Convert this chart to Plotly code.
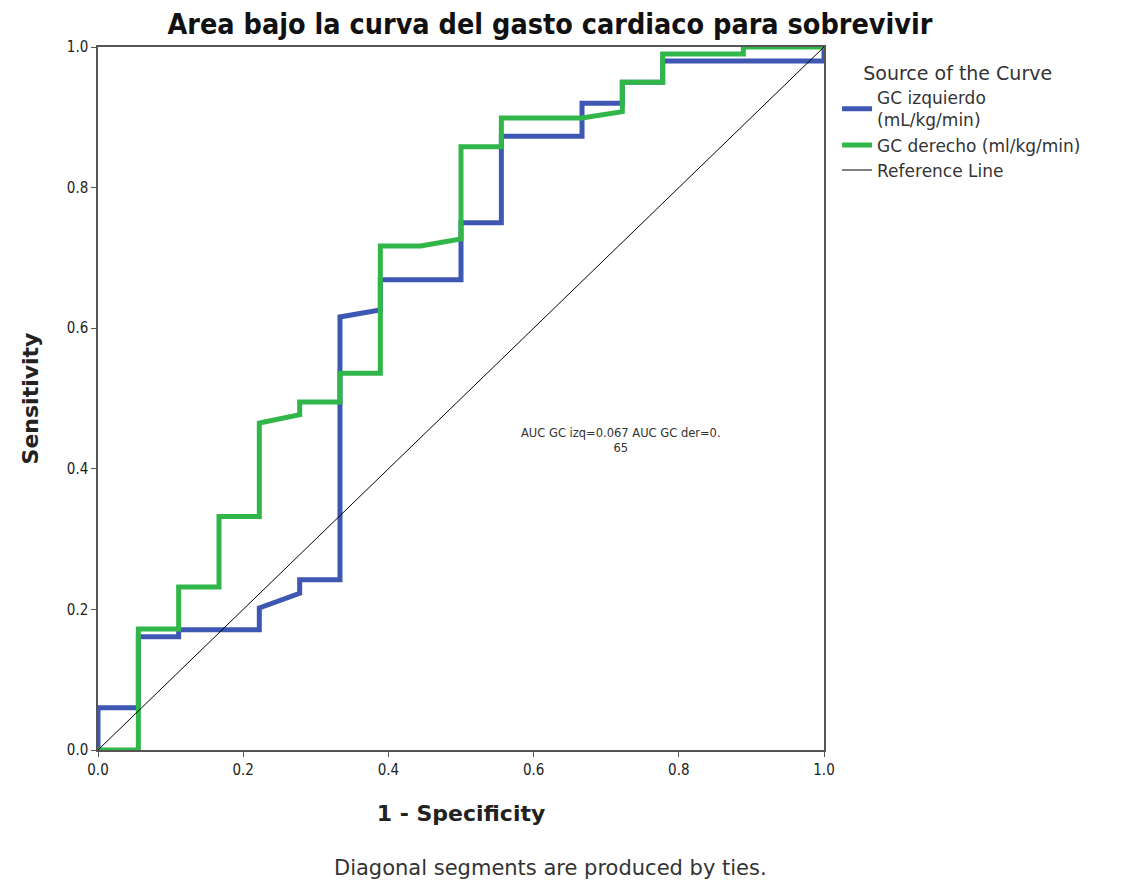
import plotly.graph_objects as go

# Data
izq_fpr = [0.0, 0.0, 0.0556, 0.0556, 0.1111, 0.1111, 0.2222, 0.2222, 0.2778, 0.2778, 0.3333, 0.3333,
           0.3889, 0.3889, 0.5, 0.5, 0.5556, 0.5556, 0.6667, 0.6667, 0.7222, 0.7222, 0.7778, 0.7778, 1.0, 1.0]
izq_tpr = [0.0, 0.06, 0.06, 0.161, 0.161, 0.171, 0.171, 0.202, 0.223, 0.242, 0.242, 0.616,
           0.626, 0.669, 0.669, 0.75, 0.75, 0.873, 0.873, 0.92, 0.92, 0.95, 0.95, 0.98, 0.98, 1.0]

der_fpr = [0.0, 0.0556, 0.0556, 0.1111, 0.1111, 0.1667, 0.1667, 0.2222, 0.2222, 0.2778, 0.2778, 0.3333,
           0.3333, 0.3889, 0.3889, 0.4444, 0.5, 0.5, 0.5556, 0.5556, 0.6667, 0.7222, 0.7222, 0.7778,
           0.7778, 0.8889, 0.8889, 1.0]
der_tpr = [0.0, 0.0, 0.172, 0.172, 0.232, 0.232, 0.332, 0.332, 0.465, 0.477, 0.495, 0.495,
           0.536, 0.536, 0.717, 0.717, 0.727, 0.858, 0.858, 0.899, 0.899, 0.908, 0.95, 0.95,
           0.99, 0.99, 1.0, 1.0]

ref_x = [0.0, 1.0]
ref_y = [0.0, 1.0]

tick_vals = [0.0, 0.2, 0.4, 0.6, 0.8, 1.0]
tick_text = ["0.0", "0.2", "0.4", "0.6", "0.8", "1.0"]

series_names = ["GC izquierdo<br>(mL/kg/min)", "GC derecho (ml/kg/min)", "Reference Line"]

BLUE = "#3D57B2"
GREEN = "#31B64A"

# page body adds an 8px offset; compensate
OFF = 8
W, H = 1130, 884
L, T = 98 - OFF, 47 - OFF
PW, PH = 726, 703
R, B = W - L - PW, H - T - PH

fig = go.Figure()
fig.add_trace(go.Scatter(x=izq_fpr, y=izq_tpr, mode="lines", name=series_names[0],
                         line=dict(color=BLUE, width=5)))
fig.add_trace(go.Scatter(x=der_fpr, y=der_tpr, mode="lines", name=series_names[1],
                         line=dict(color=GREEN, width=5)))
fig.add_trace(go.Scatter(x=ref_x, y=ref_y, mode="lines", name=series_names[2],
                         line=dict(color="black", width=1)))

label_font = "DejaVu Sans"
axis_common = dict(range=[0, 1], tickvals=tick_vals, ticktext=tick_text, showgrid=False,
                   zeroline=False, showline=True, mirror=True, linecolor="#555555", linewidth=1.5,
                   ticks="outside", ticklen=5, tickcolor="#555555", automargin=False,
                   tickfont=dict(family="DejaVu Sans Condensed", size=15, color="#222222"))

fig.update_layout(
    width=W, height=H,
    margin=dict(l=L, r=R, t=T, b=B, autoexpand=False),
    paper_bgcolor="white", plot_bgcolor="white",
    title=dict(text="<b>Area bajo la curva del gasto cardiaco para sobrevivir</b>",
               x=(550 - OFF) / W, xanchor="center", y=1 - (24 - OFF) / H, yanchor="middle",
               font=dict(family="Liberation Sans Narrow, DejaVu Sans Condensed", size=28.5, color="#111111")),
    xaxis=dict(**axis_common,
               title=dict(text="<b>1 - Specificity</b>", font=dict(family=label_font, size=22, color="#222222"),
                          standoff=28)),
    yaxis=dict(**axis_common,
               title=dict(text="<b>Sensitivity</b>", font=dict(family=label_font, size=22, color="#222222"),
                          standoff=22)),
    legend=dict(x=1.018, y=0.988, xanchor="left", yanchor="top",
                title=dict(text="    Source of the Curve", font=dict(family=label_font, size=19, color="#333333")),
                font=dict(family=label_font, size=17, color="#333333"),
                tracegroupgap=0, itemwidth=30, bgcolor="rgba(0,0,0,0)"),
    showlegend=True,
)

fig.add_annotation(x=0.72, y=0.44, xref="x", yref="y",
                   text="AUC GC izq=0.067 AUC GC der=0.<br>65", showarrow=False,
                   font=dict(family=label_font, size=11.5, color="#333333"), align="center")

fig.add_annotation(x=(550 - 98) / PW, y=(750 - 868) / PH, xref="paper", yref="paper",
                   text="Diagonal segments are produced by ties.", showarrow=False,
                   font=dict(family=label_font, size=21, color="#333333"),
                   xanchor="center", yanchor="middle")

fig.write_html("out.html")
